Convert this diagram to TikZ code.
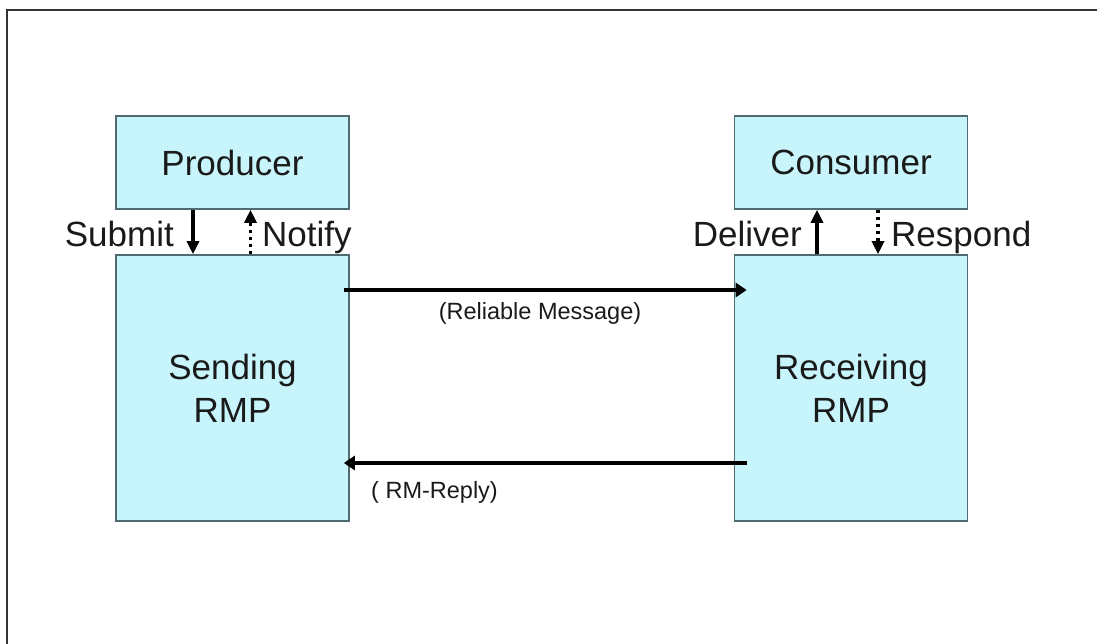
\documentclass[tikz,border=0pt]{standalone}
\usepackage{fontspec}
\setmainfont{Liberation Sans}
\usetikzlibrary{arrows.meta,calc}
\definecolor{boxfill}{HTML}{C8F5FB}
\definecolor{boxline}{HTML}{4F6A70}
\definecolor{ink}{HTML}{1A1A1A}
\tikzset{
  party/.style={draw=boxline,line width=1.6pt,fill=boxfill,inner sep=0pt,
    text=ink,font=\fontsize{35}{43}\selectfont,align=center},
  agent/.style={party,minimum width=233pt,minimum height=93pt},
  rmp/.style={party,minimum width=233pt,minimum height=266pt},
  msg/.style={line width=4.4pt,draw=black,-{Triangle[length=11pt,width=14pt]}},
  call/.style={line width=3.2pt,draw=black,-{Triangle[length=13pt,width=12pt]}},
  back/.style={call,dash pattern=on 3.5pt off 3.5pt},
  lab/.style={text=ink,font=\fontsize{35}{40}\selectfont,inner sep=0pt},
  note/.style={text=ink,font=\fontsize{23.5}{27}\selectfont,inner sep=0pt}
}
\begin{document}
\begin{tikzpicture}[x=1pt,y=-1pt]
\useasboundingbox (0,0) rectangle (1097,644);
% page frame, clipped at the right and bottom
\draw[line width=2pt,draw=black!80] (7,646) -- (7,10) -- (1097,10);

% the four parties
\node[agent] (prod) at (232.5,162.5) {Producer};
\node[rmp]   (send) at (232.5,388) {Sending\\RMP};
\node[agent] (cons) at (851,162.5) {Consumer};
\node[rmp]   (recv) at (851,388) {Receiving\\RMP};

% producer <-> sending RMP
\draw[call] ([xshift=-39.5pt]prod.south) -- ([xshift=-39.5pt]send.north);
\draw[back] ([xshift=18pt]send.north) -- ([xshift=18pt]prod.south);
\node[lab,anchor=base east] (submit) at (174,247) {Submit};
\node[lab,anchor=base west] (notify) at (262,247) {Notify};

% consumer <-> receiving RMP
\draw[call] ([xshift=-34pt]recv.north) -- ([xshift=-34pt]cons.south);
\draw[back] ([xshift=27pt]cons.south) -- ([xshift=27pt]recv.north);
\node[lab,anchor=base east] (deliver) at (802,247) {Deliver};
\node[lab,anchor=base west] (respond) at (891,247) {Respond};

% messages between the RMPs
\draw[msg] ([xshift=-6pt]send.east |- 0,290) -- ([xshift=13pt]recv.west |- 0,290);
\node[note] (rel) at (540,313) {(Reliable Message)};
\draw[msg] ([xshift=13pt]recv.west |- 0,463) -- ([xshift=-6pt]send.east |- 0,463);
\node[note,anchor=west] (reply) at (371,492) {( RM-Reply)};
\end{tikzpicture}
\end{document}
